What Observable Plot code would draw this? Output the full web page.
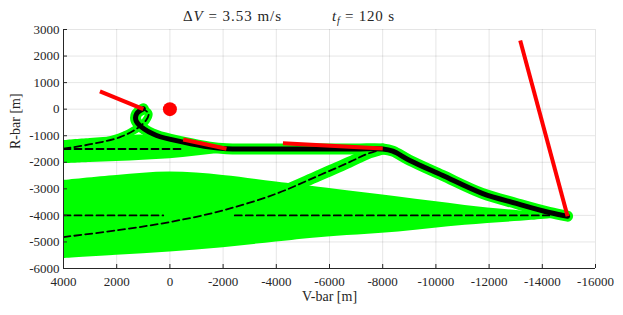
<!DOCTYPE html>
<html><head><meta charset="utf-8">
<script src="https://cdn.jsdelivr.net/npm/d3@7"></script>
<script src="https://cdn.jsdelivr.net/npm/@observablehq/plot@0.6"></script>
<style>body{margin:0;background:#fff}#chart{width:623px;height:315px}</style>
</head><body><div id="chart"></div>
<script>
// axis ticks
const xTicks = [4000, 2000, 0, -2000, -4000, -6000, -8000, -10000, -12000, -14000, -16000];
const yTicks = [3000, 2000, 1000, 0, -1000, -2000, -3000, -4000, -5000, -6000];
const xDomain = [4000, -16000];
const yDomain = [-6000, 3000];

// dispersion envelope A (upper band)
const bandAV  = [4000, 3000, 2000, 1000, 0, -1000, -2000, -3000];
const bandAHi = [-1180, -1100, -1040, -980, -1150, -1350, -1480, -1560];
const bandALo = [-2055, -2010, -1968, -1920, -1868, -1760, -1650, -1580];

// dispersion envelope B (lower band)
const bandBV  = [4000, 2000, 0, -2000, -4000, -5600, -8600, -11100, -13600, -15150];
const bandBHi = [-2682, -2494, -2370, -2494, -2746, -2940, -3310, -3623, -3874, -4000];
const bandBLo = [-5628, -5504, -5380, -5214, -5003, -4840, -4627, -4375, -4187, -4040];

// actual trajectory (black)
const trajV = [1000, 1250, 1276, 1062, 500, -500, -1500, -2127, -3000, -5000, -7000, -8000, -8380, -9000, -10240, -11740, -13020, -14260, -14950];
const trajR = [15, -173, -425, -677, -990, -1241, -1430, -1490, -1500, -1500, -1500, -1500, -1580, -1920, -2490, -3170, -3550, -3890, -4030];

// dashed coast arcs
const coast1V = [4000, 2878, 1876, 1250, 900, 800, 960];
const coast1R = [-1490, -1302, -1053, -737, -425, -173, -20];
const coast2V = [4000, 2000, 0, -2000, -4000, -5550, -6750, -7400, -8000];
const coast2R = [-4815, -4564, -4250, -3811, -3183, -2520, -1994, -1690, -1500];
const hold1V = [4000, -500];   const hold1R = -1500;
const hold2aV = [4000, 250];   const hold2R = -4000;
const hold2bV = [-2440, -14260];

// burn vectors (red)
const burnStartV = [2630, -500, -4250, -13170];
const burnStartR = [667, -1145, -1280, 2585];
const burnEndV   = [1000, -2127, -8000, -14950];
const burnEndR   = [0, -1490, -1480, -4030];

// target
const targetV = [0];
const targetR = [0];

const GREEN = "#00ff00";
const FONT = "Liberation Serif";
const zip = (V, R) => V.map((v, i) => ({V: v, R: Array.isArray(R) ? R[i] : R}));
const band = (V, hi, lo) => V.map((v, i) => ({V: v, hi: hi[i], lo: lo[i]}));

const bandA = band(bandAV, bandAHi, bandALo);
const bandB = band(bandBV, bandBHi, bandBLo);
const traj = zip(trajV, trajR);
const coast1 = zip(coast1V, coast1R);
const coast2 = zip(coast2V, coast2R);
const holds = [zip(hold1V, hold1R), zip(hold2aV, hold2R), zip(hold2bV, hold2R)];
const burns = burnStartV.map((v, i) => ({x1: v, y1: burnStartR[i], x2: burnEndV[i], y2: burnEndR[i]}));
const target = zip(targetV, targetR);

const W = 623, H = 315, mL = 63, mR = 28, mT = 29, mB = 47;
const innerH = H - mT - mB, innerW = W - mL - mR;
const ink = "#262626";
const tube = {x: "V", y: "R", stroke: GREEN, strokeLinecap: "round", strokeLinejoin: "round", curve: "catmull-rom", clip: true};
const dash = {x: "V", y: "R", stroke: "#000", strokeWidth: 1.8, strokeDasharray: "7,4", clip: true};

const svg = Plot.plot({
  width: W, height: H,
  marginLeft: mL, marginRight: mR, marginTop: mT, marginBottom: mB,
  style: {fontFamily: FONT, fontSize: "13px", color: ink, background: "#fff"},
  x: {domain: xDomain},
  y: {domain: yDomain},
  marks: [
    Plot.gridX(xTicks, {stroke: "#000", strokeOpacity: 0.1}),
    Plot.gridY(yTicks, {stroke: "#000", strokeOpacity: 0.1}),
    Plot.areaY(bandA, {x: "V", y1: "lo", y2: "hi", fill: GREEN, curve: "catmull-rom", clip: true}),
    Plot.areaY(bandB, {x: "V", y1: "lo", y2: "hi", fill: GREEN, curve: "catmull-rom", clip: true}),
    Plot.line(coast1, {...tube, strokeWidth: 8}),
    Plot.line(coast2, {...tube, strokeWidth: 11}),
    Plot.line(traj, {...tube, strokeWidth: 11}),
    Plot.line(coast1, {...dash, curve: "catmull-rom"}),
    Plot.line(coast2, {...dash, curve: "catmull-rom"}),
    ...holds.map(h => Plot.line(h, dash)),
    Plot.line(traj, {x: "V", y: "R", stroke: "#000", strokeWidth: 5, strokeLinejoin: "round", curve: "catmull-rom"}),
    Plot.link(burns, {x1: "x1", y1: "y1", x2: "x2", y2: "y2", stroke: "#ff0000", strokeWidth: 4}),
    Plot.dot(target, {x: "V", y: "R", r: 7, fill: "#ff0000"}),
    Plot.ruleY([yDomain[0]], {stroke: ink}),
    Plot.ruleX([xDomain[0]], {stroke: ink}),
    Plot.tickX(xTicks, {x: d => d, insetTop: innerH - 4, stroke: ink}),
    Plot.tickY(yTicks, {y: d => d, insetRight: innerW - 4, stroke: ink}),
    Plot.axisX({ticks: xTicks, tickSize: 0, tickPadding: 8, tickFormat: d => String(d), label: null, fill: ink, fontFamily: FONT, fontSize: 13}),
    Plot.axisY({ticks: yTicks, tickSize: 0, tickPadding: 4, tickFormat: d => String(d), label: null, fill: ink, fontFamily: FONT, fontSize: 13}),
    Plot.text(["V-bar [m]"], {text: d => d, frameAnchor: "bottom", dy: 32, fontSize: 14, fill: ink, fontFamily: FONT}),
    Plot.text(["R-bar [m]"], {text: d => d, frameAnchor: "left", dx: -48, rotate: -90, fontSize: 14, fill: ink, fontFamily: FONT})
  ]
});

// title with math styling
const sel = d3.select(svg);
const t1 = sel.append("text").attr("x", 232).attr("y", 21)
  .attr("fill", ink).attr("font-size", 15).attr("font-family", FONT)
  .attr("textLength", 98).attr("lengthAdjust", "spacing");
t1.append("tspan").text("Δ");
t1.append("tspan").attr("font-style", "italic").text("V");
t1.append("tspan").text(" = 3.53 m/s");
const t2 = sel.append("text").attr("x", 363).attr("y", 21)
  .attr("fill", ink).attr("font-size", 15).attr("font-family", FONT)
  .attr("textLength", 62).attr("lengthAdjust", "spacing");
t2.append("tspan").attr("font-style", "italic").text("t");
t2.append("tspan").attr("font-style", "italic").attr("font-size", 10).attr("dy", 3).text("f");
t2.append("tspan").attr("dy", -3).text(" = 120 s");

document.getElementById("chart").appendChild(svg);
</script>
</body></html>
